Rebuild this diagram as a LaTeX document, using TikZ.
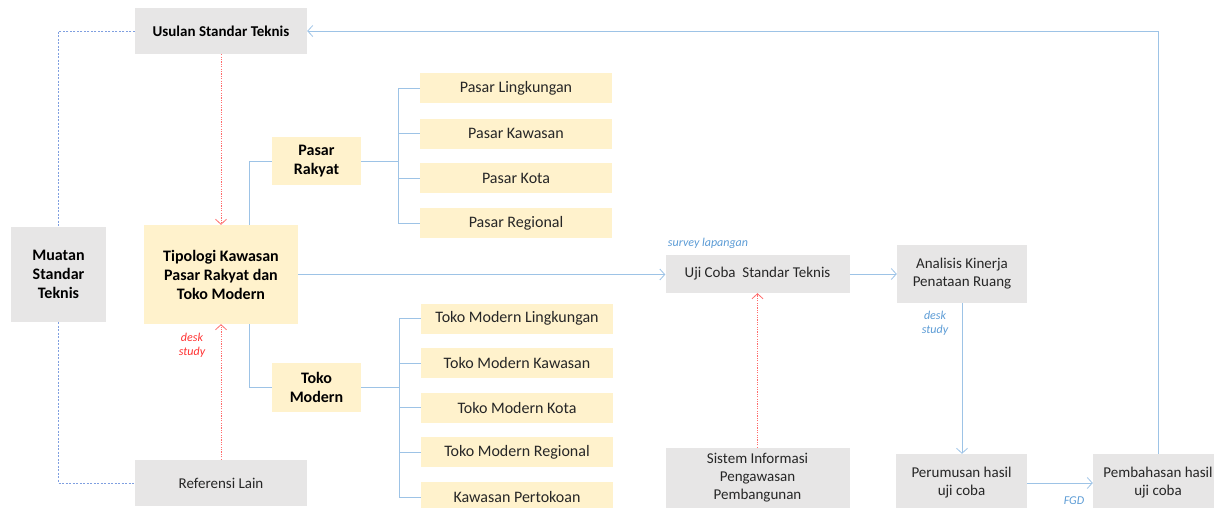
\documentclass[tikz,border=0pt]{standalone}
\usepackage{fontspec}
\setmainfont{Carlito}
\usetikzlibrary{arrows.meta}
\definecolor{boxgray}{HTML}{E7E6E6}
\definecolor{boxyel}{HTML}{FFF2CC}
\definecolor{lnblue}{HTML}{9DC3E6}
\definecolor{dshblue}{HTML}{7F9FE0}
\definecolor{dotred}{HTML}{FF6B6B}
\definecolor{txtred}{HTML}{FF3030}
\definecolor{txtblue}{HTML}{5B9BD5}
\definecolor{txtgray}{HTML}{262626}
\tikzset{
  bx/.style={inner sep=0pt, align=center, text=txtgray},
  gbox/.style={bx, fill=boxgray, font=\fontsize{15}{18}\selectfont},
  ybox/.style={bx, fill=boxyel, font=\fontsize{16}{19}\selectfont},
  bld/.style={font=\fontsize{16}{19}\selectfont\bfseries, text=black},
  tree/.style={draw=lnblue, line width=0.8pt},
  flow/.style={draw=lnblue, line width=0.8pt, -{Straight Barb[length=5pt,width=11pt]}},
  reddot/.style={draw=dotred, line width=0.8pt, dash pattern=on 1.2pt off 1.2pt, -{Straight Barb[length=5pt,width=11pt]}},
  bluedash/.style={draw=dshblue, line width=0.6pt, dash pattern=on 2pt off 1.5pt},
  lblred/.style={font=\fontsize{12}{14}\selectfont\itshape, text=txtred, align=center},
  lblblue/.style={font=\fontsize{12}{14}\selectfont\itshape, text=txtblue, align=center},
}
\begin{document}
\begin{tikzpicture}[x=1pt,y=-1pt]
\useasboundingbox (0,0) rectangle (1214,507);
% nodes
\node[gbox,bld,font=\fontsize{15}{18}\selectfont\bfseries,minimum width=172,minimum height=46] (usul) at (221,31) {Usulan Standar Teknis};
\node[gbox,bld,minimum width=95,minimum height=95] (muat) at (58.5,274.5) {Muatan\\Standar\\Teknis};
\node[ybox,bld,minimum width=154,minimum height=99] (tipo) at (221,274.5) {Tipologi Kawasan\\Pasar Rakyat dan\\Toko Modern};
\node[ybox,bld,minimum width=89,minimum height=48] (prak) at (316.5,161) {Pasar\\Rakyat};
\node[ybox,bld,minimum width=89,minimum height=49] (tmod) at (316.5,387.5) {Toko\\Modern};
\node[ybox,minimum width=192,minimum height=30] (p1) at (516,88) {Pasar Lingkungan};
\node[ybox,minimum width=192,minimum height=30] (p2) at (516,133.5) {Pasar Kawasan};
\node[ybox,minimum width=192,minimum height=30] (p3) at (516,178) {Pasar Kota};
\node[ybox,minimum width=192,minimum height=30] (p4) at (516,223) {Pasar Regional};
\node[ybox,minimum width=192,minimum height=30] (t1) at (517,318.5) {Toko Modern Lingkungan};
\node[ybox,minimum width=192,minimum height=30] (t2) at (517,363) {Toko Modern Kawasan};
\node[ybox,minimum width=192,minimum height=30] (t3) at (517,407.5) {Toko Modern Kota};
\node[ybox,minimum width=192,minimum height=30] (t4) at (517,452) {Toko Modern Regional};
\node[ybox,minimum width=192,minimum height=30] (t5) at (517,497) {Kawasan Pertokoan};
\node[gbox,minimum width=172,minimum height=46] (ref) at (221,483) {Referensi Lain};
\node[gbox,minimum width=184,minimum height=38] (uji) at (757.5,274) {Uji Coba\ \ Standar Teknis};
\node[gbox,minimum width=184,minimum height=60] (sis) at (757.5,478) {Sistem Informasi\\Pengawasan\\Pembangunan};
\node[gbox,minimum width=130,minimum height=58] (ana) at (962,274) {Analisis Kinerja\\Penataan Ruang};
\node[gbox,minimum width=131,minimum height=58] (per) at (961.5,483) {Perumusan hasil\\uji coba};
\node[gbox,minimum width=130,minimum height=58] (pem) at (1158,483) {Pembahasan hasil\\uji coba};
% labels
\node[lblred] (lds) at (192,345.5) {desk\\study};
\node[lblblue] (lsv) at (708,243) {survey lapangan};
\node[lblblue] (lds2) at (935,323) {desk\\study};
\node[lblblue] (lfgd) at (1074,501) {FGD};
% blue dashed
\draw[bluedash] (usul.west) -| (muat.north);
\draw[bluedash] (muat.south) |- (ref.west);
% red dotted arrows
\draw[reddot] (usul.south) -- (tipo.north);
\draw[reddot] (ref.north) -- (tipo.south);
\draw[reddot] (sis.north) -- (uji.south);
% tree
\draw[tree] (tipo.north -| 249,0) |- (prak.west);
\draw[tree] (tipo.south -| 249,0) |- (tmod.west);
\coordinate (jp) at (398,161);
\coordinate (jt) at (399,387.5);
\draw[tree] (prak.east) -- (jp);
\draw[tree] (jp |- p1.west) -- (jp |- p4.west);
\foreach \n in {p1,p2,p3,p4} \draw[tree] (jp |- \n.west) -- (\n.west);
\draw[tree] (tmod.east) -- (jt);
\draw[tree] (jt |- t1.west) -- (jt |- t5.west);
\foreach \n in {t1,t2,t3,t4,t5} \draw[tree] (jt |- \n.west) -- (\n.west);
% flow
\draw[flow] (tipo.east) -- (tipo.east -| uji.west);
\draw[flow] (uji.east) -- (uji.east -| ana.west);
\draw[flow] (ana.south) -- (ana.south |- per.north);
\draw[flow] (per.east) -- (pem.west);
\coordinate (tr) at (1158,31);
\draw[flow] (pem.north) -- (tr) -- (usul.east);
\end{tikzpicture}
\end{document}
